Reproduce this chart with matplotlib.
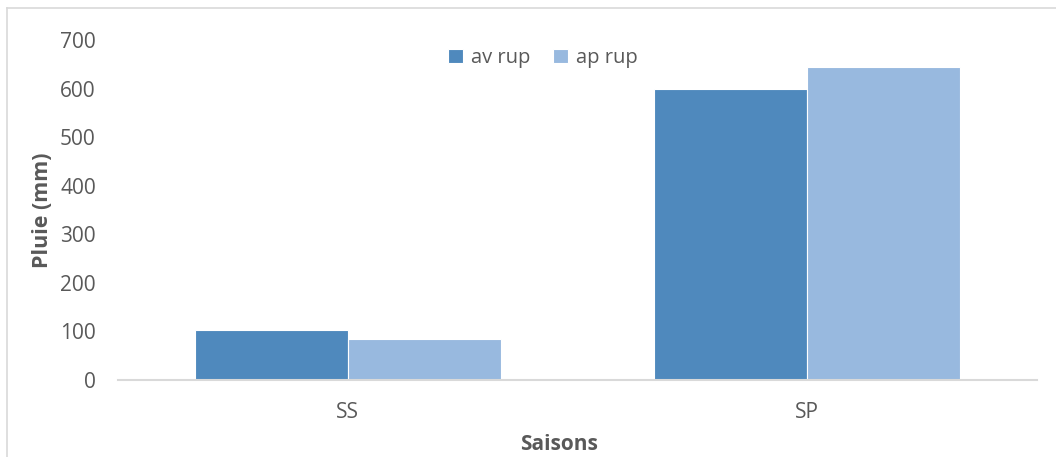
import numpy as np
import matplotlib.pyplot as plt
from matplotlib.lines import Line2D

saisons = ["SS", "SP"]
av_rup = [103, 600]
ap_rup = [84, 645]
series_names = ["av rup", "ap rup"]

plt.rcParams["font.family"] = ["Open Sans", "DejaVu Sans"]
grey = "#595959"

fig = plt.figure(figsize=(10.56, 4.57), dpi=100)
ax = fig.add_axes([118 / 1056, 1 - 380 / 457, 919 / 1056, 340 / 457])

x = np.arange(len(saisons))
w = 1 / 3
ax.bar(x - w / 2, av_rup, w, color="#4F89BD", edgecolor="white", lw=0.8, label=series_names[0])
ax.bar(x + w / 2, ap_rup, w, color="#98B9DF", edgecolor="white", lw=0.8, label=series_names[1])

ax.set_xlim(-0.5, 1.5)
ax.set_ylim(0, 700)
ax.set_yticks(range(0, 701, 100))
ax.set_xticks(x)
ax.set_xticklabels(saisons)
ax.tick_params(length=0, labelsize=15, colors=grey)
ax.tick_params(axis="x", pad=16)
ax.tick_params(axis="y", pad=16)
for s in ["top", "right", "left"]:
    ax.spines[s].set_visible(False)
ax.spines["bottom"].set_color("#D9D9D9")
ax.spines["bottom"].set_linewidth(1.5)

ax.set_ylabel("Pluie (mm)", fontsize=15.5, fontweight="bold", color=grey, labelpad=5)
fig.text(559 / 1056, 1 - 445 / 457, "Saisons", ha="center", va="center",
         fontsize=15, fontweight="bold", color=grey)

leg = ax.legend(loc="upper center", bbox_to_anchor=(0.4625, 1.03), ncol=2, frameon=False,
                fontsize=14.5, handlelength=0.75, handleheight=0.75, handletextpad=0.4,
                columnspacing=1.1, labelcolor=grey)

# chart frame (left and top edges visible)
fig.add_artist(Line2D([7 / 1056, 7 / 1056], [0, 1 - 8 / 457], transform=fig.transFigure,
                      color="#D9D9D9", lw=1.2))
fig.add_artist(Line2D([7 / 1056, 1], [1 - 8 / 457, 1 - 8 / 457], transform=fig.transFigure,
                      color="#D9D9D9", lw=1.2))

fig.savefig("out.png", dpi=100)
